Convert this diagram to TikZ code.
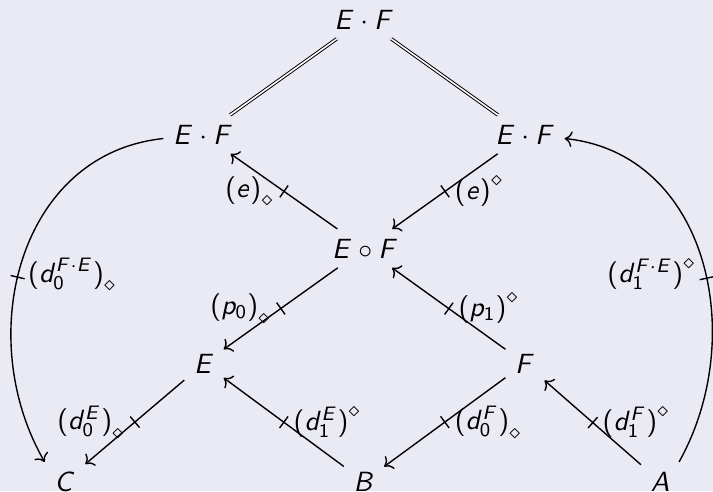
\documentclass[tikz,border=0pt]{standalone}
\usepackage{amsmath}
\usetikzlibrary{arrows.meta,decorations.markings}
\DeclareMathAlphabet{\mathsfit}{OT1}{cmss}{m}{sl}
\DeclareMathAlphabet{\mathsfup}{OT1}{cmss}{m}{n}
\newcommand\mvar[1]{\mathsfit{#1}}
\newcommand\mdig[1]{\mathsfup{#1}}
\newcommand\lpr{\mbox{\sffamily(}}
\newcommand\rpr{\mbox{\sffamily)}}
\definecolor{bgcol}{RGB}{234,234,244}
\tikzset{
  obj/.style={anchor=base, inner sep=0.333em},
  pro/.style={line width=0.5pt, -{Computer Modern Rightarrow[line width=0.5pt]},
    postaction={decorate},
    decoration={markings, mark=at position #1 with {\draw[-, line width=0.5pt] (0,-2.6pt) -- (0,2.6pt);}}},
  pro/.default=0.5,
  eqline/.style={double, double distance=0.55pt, line width=0.35pt},
  lab/.style={inner sep=0.333em}
}
\begin{document}
\begin{tikzpicture}[x=0.36pt, y=-0.36pt]
\fill[bgcol] (0,0) rectangle (713,491);
\useasboundingbox (0,0) rectangle (713,491);
\node[obj] (top) at (364,29) {$\mvar{E}\cdot\mvar{F}$};
\node[obj] (lEF) at (203,144) {$\mvar{E}\cdot\mvar{F}$};
\node[obj] (rEF) at (525,144) {$\mvar{E}\cdot\mvar{F}$};
\node[obj] (EoF) at (365,258) {$\mvar{E}\circ\mvar{F}$};
\node[obj] (E) at (204,373) {$\mvar{E}$};
\node[obj] (F) at (525,373) {$\mvar{F}$};
\node[obj] (C) at (65,491) {$\mvar{C}$};
\node[obj] (B) at (364,491) {$\mvar{B}$};
\node[obj] (A) at (660,491) {$\mvar{A}$};

\draw[eqline] (top) -- (lEF);
\draw[eqline] (top) -- (rEF);

\draw[pro] (EoF) -- (lEF) node[midway, left, lab] {$\lpr\mvar{e}\rpr_\diamond$};
\draw[pro] (rEF) -- (EoF) node[midway, right, lab] {$\lpr\mvar{e}\rpr^\diamond$};
\draw[pro] (EoF) -- (E) node[midway, left, lab] {$\lpr\mvar{p}_{\mdig{0}}\rpr_\diamond$};
\draw[pro] (F) -- (EoF) node[midway, right, lab] {$\lpr\mvar{p}_{\mdig{1}}\rpr^\diamond$};
\draw[pro] (E) -- (C) node[midway, left, lab] {$\lpr\mvar{d}^{\mvar{E}}_{\mdig{0}}\rpr_\diamond$};
\draw[pro] (B) -- (E) node[midway, right, lab] {$\lpr\mvar{d}^{\mvar{E}}_{\mdig{1}}\rpr^\diamond$};
\draw[pro] (F) -- (B) node[midway, right, lab] {$\lpr\mvar{d}^{\mvar{F}}_{\mdig{0}}\rpr_\diamond$};
\draw[pro] (A) -- (F) node[midway, right, lab] {$\lpr\mvar{d}^{\mvar{F}}_{\mdig{1}}\rpr^\diamond$};

\draw[pro=0.53] ([yshift=-1.5pt]lEF.west) .. controls +(-145,15) and +(-72,-125) .. (C.north west)
  node[pos=0.54, right, lab] {$\lpr\mvar{d}^{\mvar{F}\cdot\mvar{E}}_{\mdig{0}}\rpr_\diamond$};
\draw[pro=0.47] (A.north east) .. controls +(70,-125) and +(143,15) .. ([yshift=-1.5pt]rEF.east)
  node[pos=0.46, left, lab] {$\lpr\mvar{d}^{\mvar{F}\cdot\mvar{E}}_{\mdig{1}}\rpr^\diamond$};
\end{tikzpicture}
\end{document}
